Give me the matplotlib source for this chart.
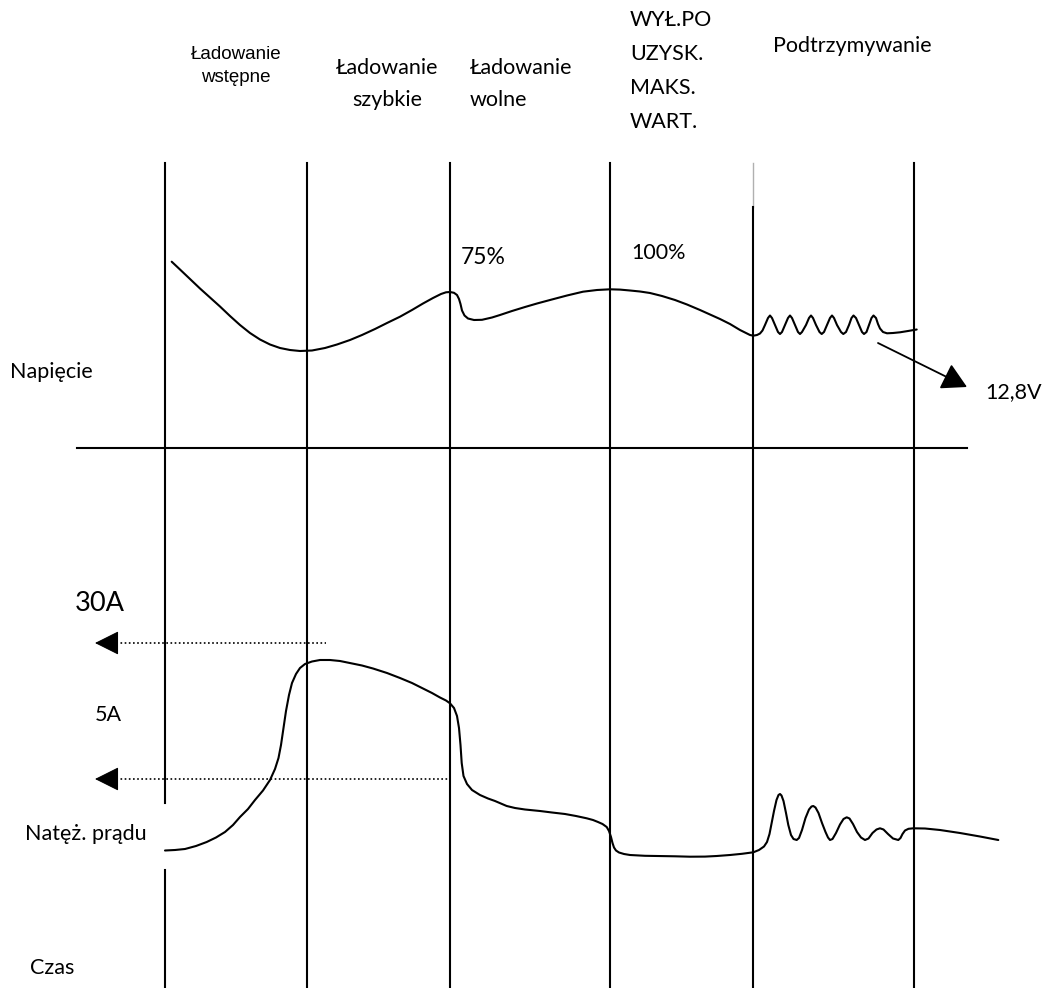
import matplotlib
matplotlib.use("Agg")
import matplotlib.pyplot as plt

# stage boundaries (pixel space of the original drawing)
stage_x = [165, 307, 450, 610, 753, 914]

voltage_x = [171.7, 180, 190, 200, 210, 220, 230, 240, 250, 260, 270, 280, 290, 300, 312, 325,
             337, 350, 362, 375, 387, 400, 412, 423, 433, 441, 446, 450, 454, 457, 459, 460.5,
             462, 464.5, 468, 474, 482, 492, 500, 512, 525, 537, 550, 567, 583, 597, 610, 620,
             630, 640, 650, 662, 675, 687, 700, 710, 720, 730, 740, 746, 750, 753.3, 757, 760,
             762.5, 765, 768, 770, 772, 775, 778, 780, 782, 785, 788, 790, 792, 795, 798, 800,
             802, 806, 809, 811, 813, 816, 819.5, 821.7, 824, 827, 830, 832, 834, 837, 841,
             843.3, 846, 849, 851.5, 853.5, 856, 859, 862, 864, 866.5, 869, 871.5, 873.5, 876,
             878, 880, 883, 887, 893, 900, 908, 916.7]
voltage_y = [261.7, 269.5, 279, 288.5, 297.5, 306.5, 316, 325, 333, 339.5, 344.5, 348, 350, 351, 350.5, 348,
             344.5, 340, 335, 329, 323, 316.7, 310, 303.5, 298, 294, 292.3, 292, 292.8, 295, 299, 304,
             310.5, 315.5, 318.5, 320, 319.8, 317.5, 315, 311, 307, 303.5, 300, 295.5, 291.7, 290, 289.3, 289.6,
             290.5, 291.5, 293, 296, 300, 304.5, 310, 314.5, 319, 324, 330, 333, 335, 335.7, 335, 333.5,
             330.5, 325, 318, 315.5, 318, 325, 332, 334, 332, 325, 318, 315.5, 318, 325, 332, 334,
             332, 325, 318, 315.5, 318, 325, 332, 334, 332, 325, 318, 315.5, 318, 325, 332,
             334, 332, 325, 318, 315.5, 318, 325, 332, 334, 332, 325, 318, 315.5, 318,
             324, 328.5, 332, 333.3, 333, 332.3, 331, 329.5]

current_x = [165, 175, 185, 196, 206.7, 216, 225, 233, 240, 248, 255, 263, 270, 275, 278.5, 281,
             283.5, 286, 289, 292, 296, 300, 305, 312, 320, 330, 340, 350, 362, 373, 387, 400,
             412, 423, 432, 440, 446, 450, 454, 457, 459, 460.5, 461.7, 463.5, 467, 472, 480, 488,
             495, 506.7, 515, 525, 540, 552, 565, 576, 586.7, 593, 598, 602.5, 606.7, 609, 611,
             612.5, 614, 616, 619, 624, 630, 645, 660, 675, 690, 705, 716.7, 730, 742, 753.3, 759,
             764, 767, 769.5, 771.7, 774, 776.5, 778.5, 780, 781.5, 783.5, 786, 788.3, 791, 793.5,
             796.7, 799, 802, 805.5, 809, 811.5, 813.3, 815.5, 818.5, 822, 825.5, 828, 830, 832.5,
             836, 840, 843.5, 846.7, 849.5, 853, 857, 861, 865, 868.5, 872.5, 876.5, 880, 883.5,
             888, 893, 898.3, 900.5, 902.5, 905, 908.5, 913.3, 925, 940, 960, 980, 998.3]
current_y = [850.5, 850, 849, 846, 842, 837.5, 832, 825, 817, 809, 800, 790.5, 780, 769, 758, 745,
             728, 711, 695, 683, 674, 668, 664, 661.5, 660, 660, 661, 663, 665.5, 668.5, 673, 678,
             683, 688.5, 693, 697.5, 700.5, 703.3, 708, 716, 728, 745, 763, 776, 784, 790, 795, 798.5,
             801, 806, 808, 809.5, 811, 812.5, 814, 816, 818.3, 820, 822, 824, 827, 831, 837,
             843, 847.5, 850.5, 852.5, 854, 855, 855.8, 856, 856.3, 856.7, 856.6, 856, 855, 853.8, 852.3, 850,
             846.5, 842, 834, 823, 811, 800, 795, 794, 795.5, 801, 813, 825, 835, 839,
             840, 838, 830, 818, 809.5, 806.5, 806, 807.5, 813, 823, 832, 837.5, 840, 839,
             833, 824.5, 819, 817.3, 818.5, 824, 832, 837.5, 840, 838.5, 833, 829.5, 828.3, 829.5,
             834, 838.5, 840, 838, 834, 830.5, 828.8, 828.3, 828.5, 830, 833, 836.5, 840]

# reference levels for the current (dotted arrows): label, level y, right end x
level_names = ["30A", "5A"]
level_y = [643, 779]
level_end_x = [326, 450]

fig = plt.figure(figsize=(10.42, 9.88), dpi=100)
ax = fig.add_axes([0, 0, 1, 1])
ax.set_xlim(0, 1042)
ax.set_ylim(988, 0)
ax.axis("off")

lw = 1.5
black = "black"

# vertical stage separators
for i, x in enumerate(stage_x):
    if i == 0:
        ax.plot([x, x], [163, 803], color=black, lw=lw)
        ax.plot([x, x], [870, 988], color=black, lw=lw)
    elif i == 4:
        ax.plot([x, x], [163, 207], color="#b0b0b0", lw=1.0)
        ax.plot([x, x], [207, 988], color=black, lw=lw)
    else:
        ax.plot([x, x], [163, 988], color=black, lw=lw)

# horizontal divider between voltage and current panels
ax.plot([77, 967], [448, 448], color=black, lw=lw)

# curves
ax.plot(voltage_x, voltage_y, color=black, lw=lw, solid_joinstyle="round", solid_capstyle="round")
ax.plot(current_x, current_y, color=black, lw=lw, solid_joinstyle="round", solid_capstyle="round")

# dotted level arrows
for y, xe in zip(level_y, level_end_x):
    ax.plot([108, xe], [y, y], color=black, lw=1.2, linestyle=(0, (1, 1.5)))
    ax.annotate("", xy=(95, y), xytext=(112, y),
                arrowprops=dict(arrowstyle="-|>,head_length=0.9,head_width=0.45",
                                color=black, lw=0.8, mutation_scale=17,
                                shrinkA=0, shrinkB=0))

# 12,8V arrow
ax.annotate("", xy=(967, 387), xytext=(878, 343),
            arrowprops=dict(arrowstyle="-|>,head_length=0.9,head_width=0.5",
                            color=black, lw=1.3, mutation_scale=17,
                            shrinkA=0, shrinkB=0))

calibri = ["Lato", "DejaVu Sans"]
fs = 15.5

ax.text(236, 66, "Ładowanie\nwstępne", ha="center", va="center", fontsize=13.5,
        family=["Liberation Sans"], linespacing=1.5)
ax.text(387, 84, "Ładowanie\nszybkie", ha="center", va="center", fontsize=fs,
        family=calibri, linespacing=1.75)
ax.text(470, 84, "Ładowanie\nwolne", ha="left", va="center", fontsize=fs,
        family=calibri, linespacing=1.75)
for txt, y in zip(["WYŁ.PO", "UZYSK.", "MAKS.", "WART."], [20, 54, 88, 122]):
    ax.text(630, y, txt, ha="left", va="center", fontsize=fs, family=calibri)
ax.text(773, 46, "Podtrzymywanie", ha="left", va="center", fontsize=fs, family=calibri)

ax.text(461, 257, "75%", ha="left", va="center", fontsize=16.5, family=calibri)
ax.text(631, 253, "100%", ha="left", va="center", fontsize=fs, family=calibri)
ax.text(10, 372, "Napięcie", ha="left", va="center", fontsize=fs, family=calibri)
ax.text(985, 392, "12,8V", ha="left", va="center", fontsize=fs, family=calibri)
ax.text(75, 603, level_names[0], ha="left", va="center", fontsize=19.5, family=calibri)
ax.text(95, 715, level_names[1], ha="left", va="center", fontsize=fs, family=calibri)
ax.text(25, 834, "Natęż. prądu", ha="left", va="center", fontsize=fs, family=calibri)
ax.text(30, 968, "Czas", ha="left", va="center", fontsize=fs, family=calibri)

fig.savefig("out.png", dpi=100)
